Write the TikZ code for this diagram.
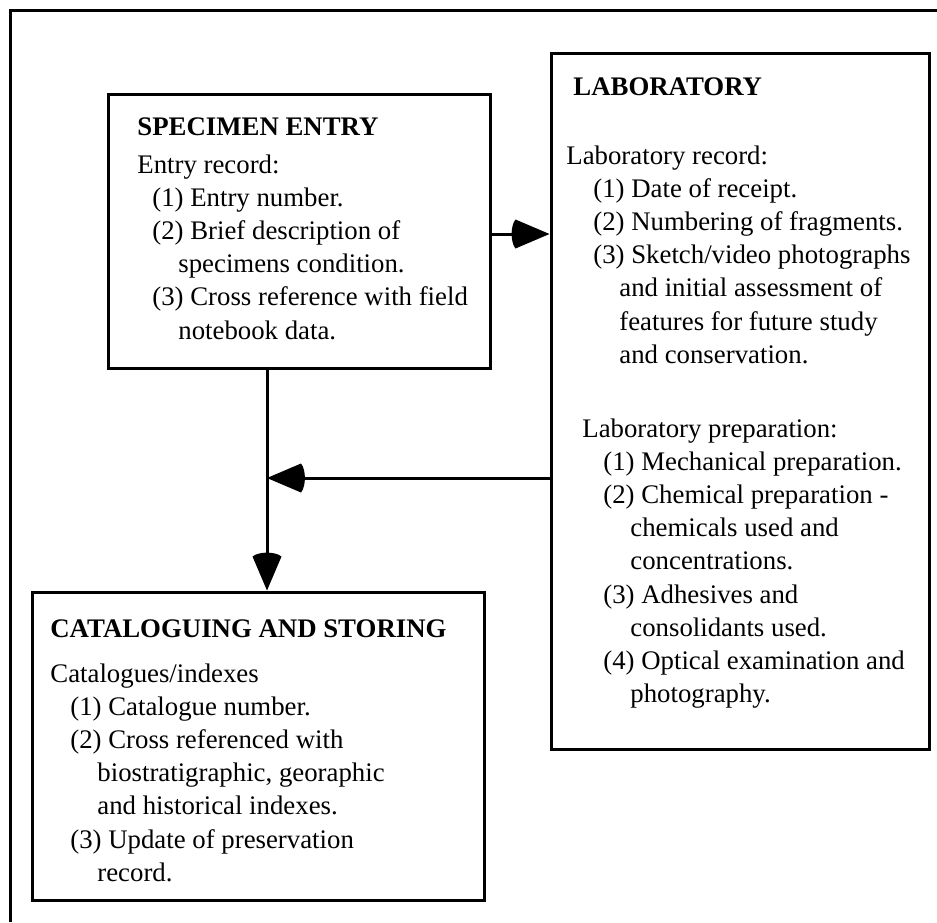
\documentclass[tikz,border=0pt]{standalone}
\usepackage{fontspec}
\setmainfont{Liberation Serif}
\usetikzlibrary{arrows.meta}

% a filled triangular tip whose back edge bulges slightly outwards
\pgfdeclarearrow{
  name = RoundBack,
  parameters = {\the\pgfarrowlength,\the\pgfarrowwidth},
  setup code = {
    \pgfarrowssettipend{0pt}
    \pgfarrowssetlineend{-0.5\pgfarrowlength}
    \pgfarrowssetbackend{-\pgfarrowlength}
    \pgfarrowssavethe\pgfarrowlength
    \pgfarrowssavethe\pgfarrowwidth
  },
  drawing code = {
    \pgfpathmoveto{\pgfpoint{0pt}{0pt}}
    \pgfpathlineto{\pgfpoint{-\pgfarrowlength}{.5\pgfarrowwidth}}
    \pgfpathcurveto
      {\pgfpointadd{\pgfpoint{-\pgfarrowlength}{.28\pgfarrowwidth}}{\pgfpoint{-2.6pt}{0pt}}}
      {\pgfpointadd{\pgfpoint{-\pgfarrowlength}{-.28\pgfarrowwidth}}{\pgfpoint{-2.6pt}{0pt}}}
      {\pgfpoint{-\pgfarrowlength}{-.5\pgfarrowwidth}}
    \pgfpathclose
    \pgfusepathqfill
  },
  defaults = {length=17pt, width=14.5pt}
}

% a block of text lines whose baseline is the baseline of its first line
\newcommand\textblock[1]{\vtop{\baselineskip=16.6pt\lineskiplimit=-20pt\lineskip=0pt #1}}
% one line of a block, pushed right by an indent
\newcommand\indline[2]{\hbox{\kern#1\relax #2}}

\begin{document}
\begin{tikzpicture}[x=0.5pt,y=-0.5pt,
  box/.style={draw, line width=1.5pt, inner sep=0pt},
  frameline/.style={line width=1.5pt},
  flow/.style={line width=1.5pt, -{RoundBack[length=17pt,width=14.5pt]}},
  heading/.style={anchor=base west, inner sep=0pt, font=\fontsize{13.4}{16.6}\selectfont\bfseries},
  body/.style={anchor=base west, inner sep=0pt, font=\fontsize{13.4}{16.6}\selectfont}]

\useasboundingbox (0,0) rectangle (937,922);
\fill[white] (0,0) rectangle (937,922);

% outer frame
\draw[frameline] (10,922) -- (10,10) -- (937,10);

% boxes
\node[box, minimum width=191pt, minimum height=137pt] (spec) at (299,231) {};
\node[box, minimum width=189pt, minimum height=348pt] (lab) at (740,401) {};
\node[box, minimum width=226pt, minimum height=154pt] (cat) at (258,746) {};

% specimen entry
\node[heading] (spectitle) at (137,135) {SPECIMEN ENTRY};
\node[body] (specbody) at (137,173) {\textblock{%
  \hbox{Entry record:}%
  \indline{7.5pt}{(1) Entry number.}%
  \indline{7.5pt}{(2) Brief description of}%
  \indline{20.5pt}{specimens condition.}%
  \indline{7.5pt}{(3) Cross reference with field}%
  \indline{20.5pt}{notebook data.}}};

% laboratory
\node[heading] (labtitle) at (573,95) {LABORATORY};
\node[body] (labrecord) at (566,164) {\textblock{%
  \hbox{Laboratory record:}%
  \indline{13.5pt}{(1) Date of receipt.}%
  \indline{13.5pt}{(2) Numbering of fragments.}%
  \indline{13.5pt}{(3) Sketch/video photographs}%
  \indline{26.5pt}{and initial assessment of}%
  \indline{26.5pt}{features for future study}%
  \indline{26.5pt}{and conservation.}}};
\node[body] (labprep) at (582,437) {\textblock{%
  \hbox{Laboratory preparation:}%
  \indline{10.5pt}{(1) Mechanical preparation.}%
  \indline{10.5pt}{(2) Chemical preparation -}%
  \indline{24pt}{chemicals used and}%
  \indline{24pt}{concentrations.}%
  \indline{10.5pt}{(3) Adhesives and}%
  \indline{24pt}{consolidants used.}%
  \indline{10.5pt}{(4) Optical examination and}%
  \indline{24pt}{photography.}}};

% cataloguing and storing
\node[heading] (cattitle) at (50,637) {CATALOGUING AND STORING};
\node[body] (catbody) at (50,682) {\textblock{%
  \hbox{Catalogues/indexes}%
  \indline{10pt}{(1) Catalogue number.}%
  \indline{10pt}{(2) Cross referenced with}%
  \indline{23.5pt}{biostratigraphic, georaphic}%
  \indline{23.5pt}{and historical indexes.}%
  \indline{10pt}{(3) Update of preservation}%
  \indline{23.5pt}{record.}}};

% connectors
\coordinate (rowA) at (0,234);
\coordinate (colA) at (267,0);
\coordinate (join) at (267,478);
\draw[flow] (spec.east |- rowA) -- (lab.west |- rowA);
\draw[flow] (spec.south -| colA) -- (cat.north -| colA);
\draw[flow] (lab.west |- join) -- (join);
\end{tikzpicture}
\end{document}
